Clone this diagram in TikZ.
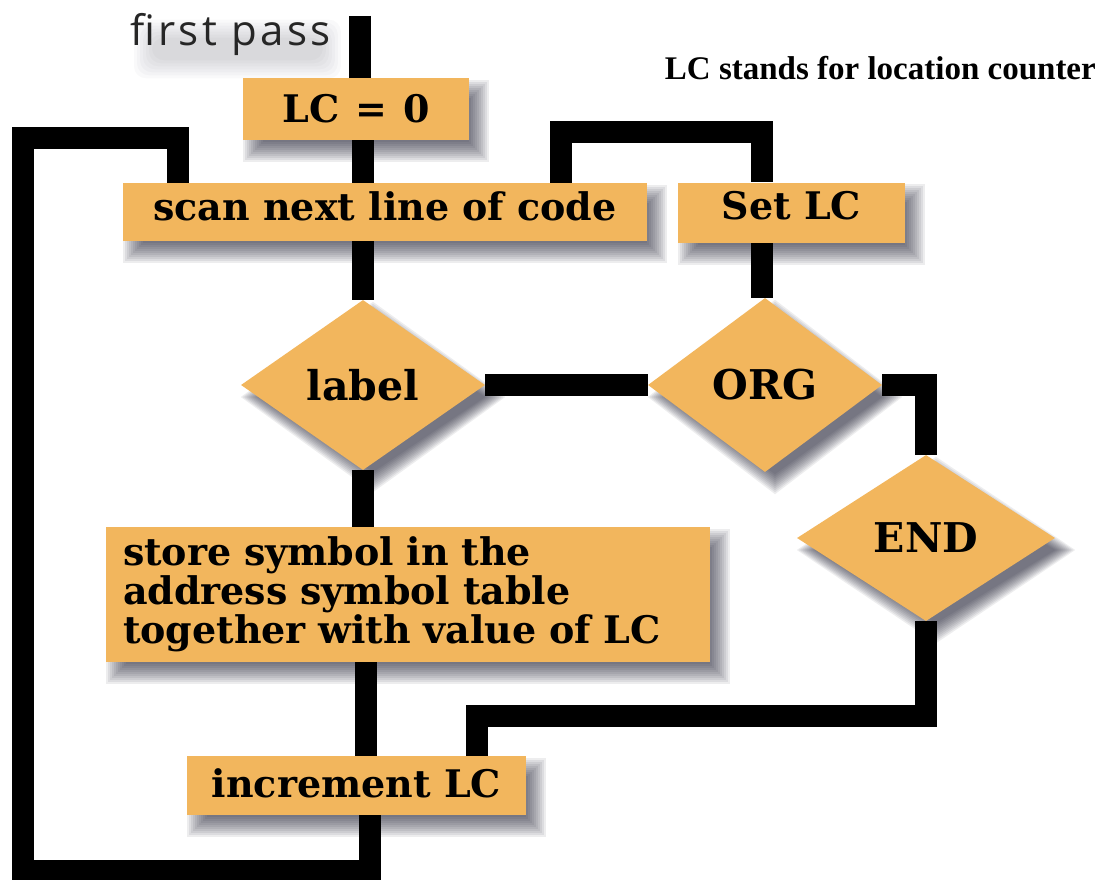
\documentclass[tikz,border=0pt]{standalone}
\usepackage{fontspec}
\setmainfont{DejaVu Serif}
\newfontfamily\boxfont{DejaVu Serif}
\newfontfamily\notefont{Liberation Serif}
\newfontfamily\passfont[LetterSpace=8]{Open Sans}
\usetikzlibrary{shapes.geometric,backgrounds}
\definecolor{boxorange}{RGB}{242,182,93}
\definecolor{shadetone}{RGB}{30,30,50}
\newcommand{\rectshade}[1]{%
  \foreach \k in {-10,-8,...,10}{%
    \fill[shadetone, fill opacity=0.08]
      ([shift={(10+\k,12+\k)}]#1.north west) rectangle ([shift={(10-\k,12-\k)}]#1.south east);}}
\newcommand{\diamondshade}[1]{%
  \foreach \k in {-10,-8,...,10}{%
    \fill[shadetone, fill opacity=0.08]
      ([shift={(10,12+\k)}]#1.north) -- ([shift={(10-\k,12)}]#1.east) --
      ([shift={(10,12-\k)}]#1.south) -- ([shift={(10+\k,12)}]#1.west) -- cycle;}}
\begin{document}
\begin{tikzpicture}[x=1pt,y=-1pt,
  flow/.style={line width=22pt, line join=miter, line cap=butt},
  box/.style={fill=boxorange, inner sep=0pt,
      font=\boxfont\bfseries\fontsize{38}{44}\selectfont},
  decision/.style={box, diamond, font=\boxfont\bfseries\fontsize{41}{46}\selectfont}]
\useasboundingbox (0,0) rectangle (1108,880);

% title texts
\node[anchor=base west, inner sep=0pt, text=black!85,
      font=\passfont\fontsize{42}{46}\selectfont] (pass) at (130,46) {first pass};
\node[anchor=base east, inner sep=0pt,
      font=\notefont\bfseries\fontsize{33}{40}\selectfont] (note) at (1096,80)
      {LC stands for location counter};

% boxes
\node[box, minimum width=226pt, minimum height=62pt, text height=28pt, text depth=0pt]
      (lc) at (356,109) {LC\hspace{16pt}=\hspace{16pt}0};
\node[box, minimum width=524pt, minimum height=58pt, text height=18pt, text depth=2pt]
      (scan) at (385,212) {scan next line of code};
\node[box, minimum width=227pt, minimum height=60pt, text height=16pt, text depth=2pt]
      (setlc) at (791.5,212.5) {Set LC\hspace{26pt}};
\node[decision, minimum width=244pt, minimum height=170pt] (label) at (363,385) {label};
\node[decision, minimum width=234pt, minimum height=174pt] (org) at (765,385) {ORG};
\node[decision, minimum width=258pt, minimum height=166pt] (end) at (926,538) {END};
\node[box, minimum width=604pt, minimum height=135pt, text width=570pt, align=left,
      font=\boxfont\bfseries\fontsize{38}{39}\selectfont]
      (store) at (408,594.5) {store symbol in the\\address symbol table\\together with value of LC};
\node[box, minimum width=339pt, minimum height=59pt, text height=23pt, text depth=0pt]
      (inc) at (356.5,785.5) {increment LC};

% helper coordinates
\coordinate (start) at (360,16);
\coordinate (colA) at (363,0);
\coordinate (colB) at (366,0);
\coordinate (colC) at (370,0);
\coordinate (lb) at (370,871);
\coordinate (ll) at (23,871);
\coordinate (lt) at (23,138);
\coordinate (lr) at (178,138);
\coordinate (rl) at (561,132);
\coordinate (rr) at (762,132);
\coordinate (turn) at (477,716);

\begin{pgfonlayer}{background}
\fill[white] (0,0) rectangle (1108,880);
% soft haze under "first pass"
\foreach \k in {-8,-5,...,10}{%
  \fill[shadetone, fill opacity=0.022, rounded corners=12pt]
    ([shift={(12+\k,14+\k)}]pass.north west) rectangle ([shift={(2-\k,14-\k)}]pass.south east);}
% drop shadows
\rectshade{lc}
\rectshade{scan}
\rectshade{setlc}
\rectshade{store}
\rectshade{inc}
\diamondshade{label}
\diamondshade{org}
\diamondshade{end}
% connectors
\draw[flow] (start) -- (start |- lc.north);
\draw[flow] (lc.south -| colA) -- (scan.north -| colA);
\draw[flow] (scan.south -| label.north) -- (label.north);
\draw[flow] (label.south) -- (store.north -| label.south);
\draw[flow] (store.south -| colB) -- (inc.north -| colB);
\draw[flow] (inc.south -| colC) -- (lb) -- (ll) -- (lt) -- (lr) -- (scan.north -| lr);
\draw[flow] (scan.north -| rl) -- (rl) -- (rr) -- (setlc.north -| rr);
\draw[flow] (setlc.south -| rr) -- (rr |- org.north);
\draw[flow] (label.east) -- (org.west);
\draw[flow] (org.east) -| (end.north);
\draw[flow] (end.south) -- (end.south |- turn) -- (turn) -- (inc.north -| turn);
\end{pgfonlayer}
\end{tikzpicture}
\end{document}
